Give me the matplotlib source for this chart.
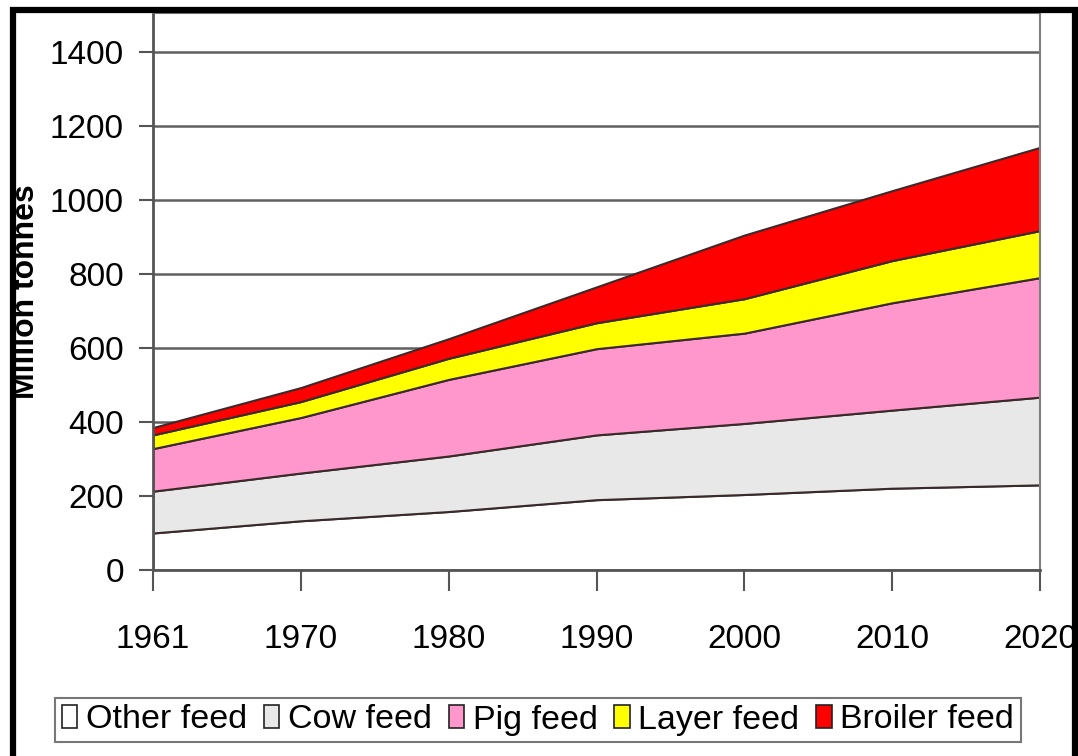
import matplotlib
matplotlib.use("Agg")
import matplotlib.pyplot as plt
from matplotlib.patches import Rectangle, Patch

# Animal feed use, million tonnes
years = ["1961", "1970", "1980", "1990", "2000", "2010", "2020"]
other_feed = [100, 133, 158, 190, 204, 221, 230]
cow_feed = [113, 129, 150, 175, 192, 211, 237]
pig_feed = [115, 150, 207, 233, 244, 290, 323]
layer_feed = [37, 43, 57, 70, 93, 114, 127]
broiler_feed = [20, 38, 53, 97, 172, 189, 225]

labels = ["Other feed", "Cow feed", "Pig feed", "Layer feed", "Broiler feed"]
colors = ["#ffffff", "#e8e8e8", "#ff96cc", "#ffff00", "#ff0000"]

FONT = "Liberation Sans"

fig = plt.figure(figsize=(10.78, 7.56), dpi=100)
ax = fig.add_axes([153 / 1078, 1 - 570 / 756, (1040 - 153) / 1078, (570 - 13) / 756])

x = range(len(years))
ax.stackplot(x, other_feed, cow_feed, pig_feed, layer_feed, broiler_feed,
             colors=colors, edgecolor="#3a2a2a", linewidth=1.5, zorder=2)

ax.set_xlim(0, len(years) - 1)
ax.set_ylim(0, 1505)
ax.set_yticks(range(0, 1401, 200))
ax.set_xticks(list(x))
ax.set_xticklabels(years)
ax.set_axisbelow(True)
ax.grid(True, axis="y", color="#606060", linewidth=1.8, zorder=0)

for lab in ax.get_xticklabels() + ax.get_yticklabels():
    lab.set_fontfamily(FONT)
    lab.set_fontsize(24)
ax.tick_params(axis="y", direction="out", length=10, width=1.5,
               color="#555555", pad=11)
ax.tick_params(axis="x", direction="out", length=15, width=1.5,
               color="#555555", pad=24)

for side in ["left", "bottom"]:
    ax.spines[side].set_color("#555555")
    ax.spines[side].set_linewidth(2)
for side in ["right", "top"]:
    ax.spines[side].set_color("#808080")
    ax.spines[side].set_linewidth(1.5)

fig.text(26 / 1078, 1 - 292 / 756, "Million tonnes", rotation=90,
         ha="center", va="center", fontsize=23, fontweight="bold",
         family=FONT)

handles = [Patch(facecolor=c, edgecolor="#222222", linewidth=1.2) for c in colors]
leg = fig.legend(handles, labels, loc="center", ncol=5,
                 bbox_to_anchor=(538 / 1078, 1 - 720 / 756),
                 prop={"family": FONT, "size": 24.5},
                 frameon=True, fancybox=False, edgecolor="#555555",
                 handlelength=0.45, handleheight=0.65, handletextpad=0.25,
                 columnspacing=0.5, borderpad=0.2, borderaxespad=0)
leg.get_frame().set_linewidth(1.5)

# thick outer frame of the original picture
fig.patches.append(Rectangle((13 / 1078, -0.05), (1075 - 13) / 1078, 1.05 - 10 / 756,
                             transform=fig.transFigure, fill=False,
                             edgecolor="black", linewidth=4.5))

fig.savefig("out.png", dpi=100)
